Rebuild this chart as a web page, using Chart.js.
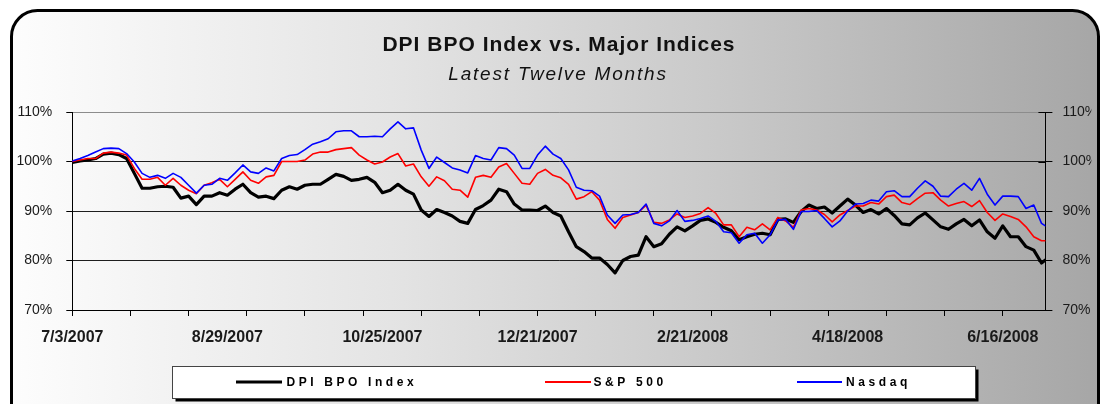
<!DOCTYPE html>
<html><head><meta charset="utf-8">
<script src="https://cdn.jsdelivr.net/npm/chart.js@4.4.1/dist/chart.umd.min.js"></script>
<style>html,body{margin:0;padding:0;background:#fff;}canvas{display:block;}</style>
</head><body>
<canvas id="c" width="1102" height="404" style="width:1102px;height:404px"></canvas>
<script>
const chartTitle = 'DPI BPO Index vs. Major Indices';
const chartSubtitle = 'Latest Twelve Months';
const seriesNames = ['DPI BPO Index', 'S&P 500', 'Nasdaq'];
const seriesColors = ['#000000', '#ff0000', '#0000ff'];
const dateLabels = ['7/3/2007', '8/29/2007', '10/25/2007', '12/21/2007', '2/21/2008', '4/18/2008', '6/16/2008'];
const dateLabelDays = [0, 40, 80, 120, 160, 200, 240];
const yTickValues = [70, 80, 90, 100, 110];
const lastDay = 251;
const tickEvery = 15;

// trading-day index of each sampled value (every 2nd trading day, plus the last day)
const sampleDays = [];
for (let d = 0; d <= 250; d += 2) sampleDays.push(d);
sampleDays.push(lastDay);

const dpiBpo = [
  99.8,100.1,100.3,100.6,101.5,101.7,101.4,100.6,97.6,94.6,
  94.6,94.9,95.0,94.8,92.6,93.0,91.3,93.0,93.0,93.7,
  93.2,94.4,95.4,93.7,92.8,93.0,92.5,94.2,94.9,94.4,
  95.2,95.4,95.4,96.4,97.4,97.0,96.2,96.4,96.8,95.8,
  93.7,94.2,95.4,94.2,93.4,90.2,88.9,90.3,89.7,89.0,
  87.9,87.5,90.3,91.1,92.2,94.4,93.9,91.4,90.2,90.2,
  90.1,91.0,89.7,89.0,85.8,82.8,81.8,80.5,80.5,79.2,
  77.5,80.0,80.8,81.1,84.8,82.8,83.4,85.3,86.8,86.0,
  87.0,88.1,88.4,87.7,86.7,86.0,84.2,84.8,85.3,85.5,
  85.2,88.3,88.4,87.7,89.9,91.2,90.5,90.8,89.6,91.0,
  92.4,91.2,89.7,90.3,89.4,90.5,89.1,87.4,87.2,88.6,
  89.6,88.2,86.8,86.3,87.4,88.3,87.0,88.2,85.8,84.5,
  87.0,84.8,84.8,82.8,82.1,79.5,80.1
];
const sp500 = [
  100.0,100.3,100.6,100.6,101.7,101.9,101.7,101.3,98.6,96.4,
  96.4,96.8,95.2,96.6,95.2,94.2,93.5,95.2,95.7,96.4,
  94.9,96.4,97.9,96.2,95.6,96.9,97.2,100.0,100.0,100.0,
  100.3,101.5,101.9,101.9,102.4,102.6,102.8,101.3,100.3,99.5,
  99.9,100.9,101.6,99.1,99.5,96.9,95.0,96.9,96.1,94.4,
  94.2,92.8,96.8,97.2,96.8,98.9,99.6,97.6,95.6,95.4,
  97.6,98.4,97.2,96.7,95.4,92.4,92.9,93.9,92.2,88.3,
  86.5,88.7,89.2,89.7,91.2,87.7,87.5,88.2,89.4,88.7,
  89.0,89.5,90.7,89.5,87.2,87.2,84.8,86.7,86.2,87.4,
  86.2,88.7,88.0,86.7,90.2,90.5,90.2,89.3,87.8,89.2,
  90.1,91.0,91.0,91.7,91.4,92.9,93.2,91.7,91.3,92.5,
  93.6,93.7,92.2,91.0,91.5,91.9,90.9,92.1,89.7,88.1,
  89.4,88.9,88.3,86.8,84.8,84.0,84.0
];
const nasdaq = [
  100.1,100.6,101.2,101.9,102.6,102.7,102.6,101.6,99.9,97.6,
  96.8,97.2,96.6,97.6,96.8,95.2,93.6,95.2,95.4,96.6,
  96.2,97.7,99.3,97.9,97.6,98.7,98.1,100.6,101.2,101.4,
  102.4,103.5,104.0,104.6,106.0,106.2,106.2,105.0,105.0,105.1,
  105.0,106.6,108.0,106.6,106.8,102.3,98.6,100.9,99.8,98.7,
  98.3,97.7,101.2,100.6,100.3,102.8,102.6,101.3,98.6,98.6,
  101.3,103.1,101.5,100.6,98.3,94.8,94.2,94.1,93.0,89.2,
  87.5,89.2,89.3,89.7,91.4,87.5,87.0,88.0,90.1,87.9,
  88.1,88.5,89.0,87.9,85.8,85.6,83.5,85.2,85.5,83.5,
  85.2,88.2,88.3,86.3,89.9,89.9,90.1,88.5,86.8,88.0,
  90.0,91.4,91.5,92.2,92.0,93.9,94.1,92.9,92.9,94.6,
  96.1,95.0,93.0,92.9,94.4,95.6,94.2,96.6,93.4,91.2,
  93.0,93.0,92.9,90.5,91.2,87.5,87.0
];

const FONT = "'Liberation Sans', Arial, sans-serif";

function roundRectPath(ctx, x, y, w, h, r) {
  ctx.beginPath();
  ctx.moveTo(x + r, y);
  ctx.lineTo(x + w - r, y);
  ctx.arcTo(x + w, y, x + w, y + r, r);
  ctx.lineTo(x + w, y + h - r);
  ctx.arcTo(x + w, y + h, x + w - r, y + h, r);
  ctx.lineTo(x + r, y + h);
  ctx.arcTo(x, y + h, x, y + h - r, r);
  ctx.lineTo(x, y + r);
  ctx.arcTo(x, y, x + r, y, r);
  ctx.closePath();
}

const decorPlugin = {
  id: 'decor',
  beforeDraw(chart) {
    const ctx = chart.ctx;
    ctx.save();
    ctx.fillStyle = '#ffffff';
    ctx.fillRect(0, 0, chart.width, chart.height);
    const g = ctx.createLinearGradient(10, 0, 1100, 0);
    g.addColorStop(0, '#fdfdfd');
    g.addColorStop(0.35, '#e4e4e4');
    g.addColorStop(0.65, '#c9c9c9');
    g.addColorStop(1, '#a6a6a6');
    roundRectPath(ctx, 11.5, 10.5, 1087, 440, 26);
    ctx.fillStyle = g;
    ctx.fill();
    ctx.lineWidth = 3;
    ctx.strokeStyle = '#000';
    ctx.stroke();
    ctx.restore();
  },
  afterDraw(chart) {
    const ctx = chart.ctx;
    const area = chart.chartArea;
    ctx.save();
    // inner half of the crossing tick marks on the right axis
    const y2 = chart.scales.y2;
    ctx.strokeStyle = '#000';
    ctx.lineWidth = 1;
    yTickValues.forEach(v => {
      const py = Math.round(y2.getPixelForValue(v)) + 0.5;
      ctx.beginPath();
      ctx.moveTo(area.right - 7, py);
      ctx.lineTo(area.right, py);
      ctx.stroke();
    });
    // titles
    ctx.fillStyle = '#111';
    ctx.textAlign = 'center';
    ctx.textBaseline = 'alphabetic';
    ctx.font = 'bold 21px ' + FONT;
    ctx.letterSpacing = '1px';
    ctx.fillText(chartTitle, 559, 50.5);
    ctx.font = 'italic 19px ' + FONT;
    ctx.letterSpacing = '1.8px';
    ctx.fillText(chartSubtitle, 558, 79.5);
    // legend box
    const bx = 172.5, by = 366.5, bw = 803, bh = 32;
    ctx.fillStyle = '#000';
    ctx.fillRect(bx + 3, by + 3, bw, bh);
    ctx.fillStyle = '#fff';
    ctx.fillRect(bx, by, bw, bh);
    ctx.strokeStyle = '#444';
    ctx.lineWidth = 1;
    ctx.strokeRect(bx, by, bw, bh);
    const items = [
      {x0: 236, x1: 282, tx: 286.5, w: 3},
      {x0: 545, x1: 591, tx: 593.5, w: 2},
      {x0: 797, x1: 842, tx: 846, w: 2}
    ];
    ctx.font = 'bold 12px ' + FONT;
    ctx.letterSpacing = '3.6px';
    ctx.textAlign = 'left';
    ctx.textBaseline = 'middle';
    items.forEach((it, i) => {
      ctx.strokeStyle = seriesColors[i];
      ctx.lineWidth = it.w;
      ctx.beginPath();
      ctx.moveTo(it.x0, 382);
      ctx.lineTo(it.x1, 382);
      ctx.stroke();
      ctx.fillStyle = '#000';
      ctx.fillText(seriesNames[i], it.tx, 382.5);
    });
    ctx.restore();
  }
};

const tickDays = [];
for (let d = 0; d <= 240; d += tickEvery) tickDays.push(d);

const yTickFont = {family: FONT, size: 14};
const yGridColor = c => (c.tick && c.tick.value === 110) ? '#8c8c8c' : '#1e1e1e';

new Chart(document.getElementById('c'), {
  type: 'line',
  data: {
    labels: sampleDays,
    datasets: [
      {label: seriesNames[0], data: dpiBpo, borderColor: seriesColors[0], borderWidth: 3.2, order: 2},
      {label: seriesNames[1], data: sp500, borderColor: seriesColors[1], borderWidth: 1.6, order: 1},
      {label: seriesNames[2], data: nasdaq, borderColor: seriesColors[2], borderWidth: 1.6, order: 0}
    ]
  },
  options: {
    responsive: false,
    animation: false,
    devicePixelRatio: 1,
    layout: {padding: {left: 10, right: 10.6, top: 112, bottom: 58}},
    plugins: {legend: {display: false}, title: {display: false}, tooltip: {enabled: false}},
    elements: {point: {radius: 0}, line: {tension: 0, borderJoinStyle: 'round', borderCapStyle: 'round', fill: false}},
    scales: {
      x: {
        type: 'linear', position: 'bottom', min: 0, max: lastDay,
        afterBuildTicks: s => { s.ticks = tickDays.map(v => ({value: v})); },
        ticks: {display: false},
        grid: {drawOnChartArea: false, tickLength: 6, tickColor: '#000', tickWidth: 1},
        border: {color: '#000', width: 1},
        afterFit: s => { s.height = 6; }
      },
      x2: {
        type: 'linear', position: 'bottom', min: 0, max: lastDay,
        afterBuildTicks: s => { s.ticks = dateLabelDays.map(v => ({value: v})); },
        ticks: {
          callback: (v, i) => dateLabels[i],
          font: {family: FONT, size: 16, weight: 'bold'},
          color: '#1a1a1a', padding: 12, maxRotation: 0, autoSkip: false
        },
        grid: {display: false, drawTicks: false},
        border: {display: false},
        afterFit: s => { s.height = 30; }
      },
      y: {
        position: 'left', min: 70, max: 110,
        afterBuildTicks: s => { s.ticks = yTickValues.map(v => ({value: v})); },
        ticks: {callback: v => v + '%', padding: 14, font: yTickFont, color: '#1a1a1a'},
        grid: {color: yGridColor, tickColor: '#000', tickLength: 6, lineWidth: 1},
        border: {color: '#000', width: 1},
        afterFit: s => { s.width = 62.3; }
      },
      y2: {
        position: 'right', min: 70, max: 110,
        afterBuildTicks: s => { s.ticks = yTickValues.map(v => ({value: v})); },
        ticks: {callback: v => v + '%', padding: 10, font: yTickFont, color: '#1a1a1a'},
        grid: {drawOnChartArea: false, tickColor: '#000', tickLength: 7},
        border: {color: '#000', width: 1},
        afterFit: s => { s.width = 46; }
      }
    }
  },
  plugins: [decorPlugin]
});
</script>
</body></html>
